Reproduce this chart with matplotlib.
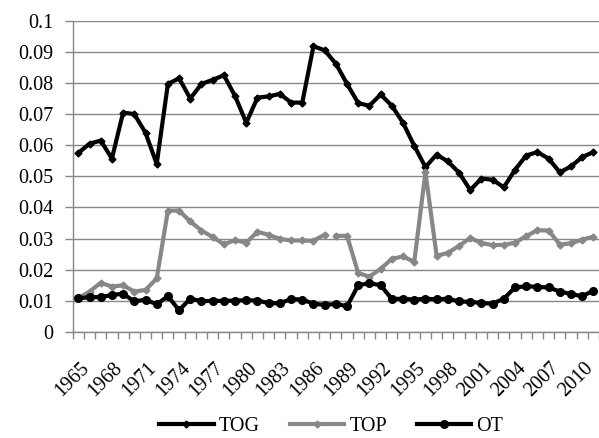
import numpy as np
import matplotlib.pyplot as plt
import matplotlib.transforms as mtransforms

plt.rcParams['font.family'] = ['Liberation Serif', 'DejaVu Serif']

years = list(range(1965, 2012))

tog = [0.0575, 0.0605, 0.0615, 0.0557, 0.0705, 0.0700, 0.0640, 0.0540, 0.0797, 0.0815,
       0.0750, 0.0797, 0.0810, 0.0825, 0.0758, 0.0672, 0.0753, 0.0757, 0.0765, 0.0737,
       0.0737, 0.0918, 0.0905, 0.0862, 0.0797, 0.0735, 0.0727, 0.0763, 0.0727, 0.0672,
       0.0598, 0.0530, 0.0570, 0.0548, 0.0512, 0.0456, 0.0493, 0.0489, 0.0465, 0.0521,
       0.0567, 0.0578, 0.0557, 0.0513, 0.0532, 0.0562, 0.0578]

top = [0.0108, 0.0130, 0.0158, 0.0146, 0.0150, 0.0130, 0.0135, 0.0172, 0.0390, 0.0390,
       0.0355, 0.0326, 0.0305, 0.0282, 0.0295, 0.0287, 0.0322, 0.0312, 0.0299, 0.0294,
       0.0294, 0.0293, 0.0313, 0.0309, 0.0309, 0.0189, 0.0178, 0.0203, 0.0235, 0.0243,
       0.0225, 0.0513, 0.0245, 0.0254, 0.0277, 0.0302, 0.0286, 0.0279, 0.0280, 0.0287,
       0.0308, 0.0327, 0.0326, 0.0281, 0.0285, 0.0297, 0.0306]

ot = [0.0108, 0.0112, 0.0112, 0.0119, 0.0123, 0.0098, 0.0104, 0.0089, 0.0115, 0.0070,
      0.0107, 0.0099, 0.0100, 0.0100, 0.0101, 0.0102, 0.0101, 0.0093, 0.0092, 0.0106,
      0.0104, 0.0091, 0.0087, 0.0090, 0.0083, 0.0150, 0.0157, 0.0150, 0.0106, 0.0107,
      0.0104, 0.0107, 0.0105, 0.0107, 0.0098, 0.0097, 0.0093, 0.0091, 0.0107, 0.0143,
      0.0147, 0.0145, 0.0143, 0.0130, 0.0122, 0.0115, 0.0133]

# TOP series is broken between 1987 and 1988
top_break = years.index(1988)

grey = '#878787'
fs = 14.5

fig = plt.figure(figsize=(5.99, 4.38), dpi=100)
ax = fig.add_axes([0.1214, 0.242, 0.8786, 0.7107])

x = np.arange(len(years))
ax.plot(x, tog, color='black', lw=3, marker='D', ms=3.5, label='TOG', zorder=3)
ax.plot(x[:top_break], top[:top_break], color=grey, lw=3, marker='D', ms=3.5,
        label='TOP', zorder=4)
ax.plot(x[top_break:], top[top_break:], color=grey, lw=3, marker='D', ms=3.5, zorder=4)
ax.plot(x, ot, color='black', lw=3, marker='o', ms=5.5, label='OT', zorder=5)

ax.set_ylim(0, 0.1)
ax.set_xlim(-0.5, 46.0)
yt = np.arange(0, 0.1001, 0.01)
ax.set_yticks(yt)
ax.set_yticklabels(['0'] + ['%g' % round(v, 2) for v in yt[1:]], fontsize=fs)
ax.yaxis.grid(True, color=grey, lw=1)
ax.set_axisbelow(True)

# labels every third year, tick marks between categories
ax.set_xticks(x[::3])
ax.set_xticklabels([str(years[i]) for i in x[::3]], fontsize=fs, rotation=45,
                   ha='right', va='center', rotation_mode='anchor')
ax.set_xticks(np.arange(-0.5, len(years), 1), minor=True)
ax.tick_params(axis='x', which='major', length=0, pad=24)
ax.tick_params(axis='x', which='minor', length=5, color=grey, width=1)
ax.tick_params(axis='y', length=6, color=grey, width=1, pad=8)

# nudge the rotated year labels so they end at their category
shift = mtransforms.ScaledTranslation(0.08, 0, fig.dpi_scale_trans)
for lbl in ax.get_xticklabels():
    lbl.set_transform(lbl.get_transform() + shift)

for s in ['top', 'right']:
    ax.spines[s].set_visible(False)
for s in ['left', 'bottom']:
    ax.spines[s].set_color(grey)
    ax.spines[s].set_linewidth(1)

fig.legend(loc='lower center', bbox_to_anchor=(0.553, -0.036), ncol=3, frameon=False,
           fontsize=fs, handlelength=2.7, handletextpad=0.25, columnspacing=1.5)

fig.savefig('out.png', dpi=100)
